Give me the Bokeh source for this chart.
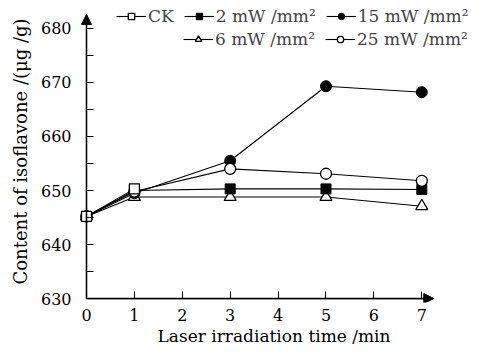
from bokeh.plotting import figure
from bokeh.models import Legend, LegendItem, Arrow, NormalHead, FixedTicker, Range1d, LinearAxis
from bokeh.embed import file_html
from bokeh.resources import INLINE

# ---- data ----
time = [0, 1, 3, 5, 7]
ck_time = [0, 1]
ck = [645.2, 650.3]
mw2 = [645.2, 650.0, 650.3, 650.3, 650.2]
mw6 = [645.2, 648.8, 648.8, 648.8, 647.1]
mw15 = [645.2, 649.5, 655.5, 669.3, 668.2]
mw25 = [645.2, 649.8, 654.0, 653.1, 651.8]
x_ticks = [0, 1, 2, 3, 4, 5, 6, 7]
y_ticks = [630, 640, 650, 660, 670, 680]
y_minor = [635, 645, 655, 665, 675]

FONT = "DejaVu Serif"
X0, X_ARROW, X_END = -0.146, 7.25, 7.975
Y0, Y_ARROW, Y_END = 629.27, 682.6, 685.17

p = figure(width=468, height=348, output_backend="svg", toolbar_location=None,
           x_range=Range1d(X0, X_END), y_range=Range1d(Y0, Y_END),
           min_border_left=79, min_border_right=0, min_border_top=0, min_border_bottom=40)
p.outline_line_color = None
p.grid.visible = False
p.background_fill_color = "white"

# label-only axes at the frame edges
for ax in (p.xaxis, p.yaxis):
    ax.axis_line_color = None
    ax.major_tick_line_color = None
    ax.minor_tick_line_color = None
    ax.major_label_text_font = FONT
    ax.major_label_text_font_size = "16px"
    ax.major_label_text_color = "black"
    ax.axis_label_text_font = FONT
    ax.axis_label_text_font_style = "normal"
    ax.axis_label_text_color = "black"

p.xaxis.ticker = FixedTicker(ticks=x_ticks)
p.yaxis.ticker = FixedTicker(ticks=y_ticks)
p.xaxis.major_label_standoff = 0
p.yaxis.major_label_standoff = 2
p.xaxis.axis_label = "Laser irradiation time /min"
p.yaxis.axis_label = "Content of isoflavone /(μg /g)"
p.xaxis.axis_label_text_font_size = "17px"
p.yaxis.axis_label_text_font_size = "18px"
p.xaxis.axis_label_standoff = 2
p.yaxis.axis_label_standoff = 7

# line + tick axes through the data origin
def line_axis(loc, ticker, bounds):
    a = LinearAxis(fixed_location=loc, ticker=ticker, bounds=bounds,
                   axis_line_color="black", axis_line_width=1.3,
                   major_tick_in=7, major_tick_out=0, minor_tick_in=7, minor_tick_out=0,
                   major_tick_line_width=1.1, minor_tick_line_width=1.1,
                   major_label_text_alpha=0, major_label_text_font_size="1px",
                   major_label_standoff=0)
    return a

p.add_layout(line_axis(630, FixedTicker(ticks=x_ticks), (0, X_ARROW)), "below")
p.add_layout(line_axis(0, FixedTicker(ticks=y_ticks, minor_ticks=y_minor), (630, Y_ARROW)), "left")

# axis arrows
p.add_layout(Arrow(end=NormalHead(size=10, fill_color="black", line_color="black"),
                   x_start=0, y_start=630, x_end=0, y_end=Y_ARROW, line_width=1.3))
p.add_layout(Arrow(end=NormalHead(size=10, fill_color="black", line_color="black"),
                   x_start=0, y_start=630, x_end=X_ARROW, y_end=630, line_width=1.3))

ms = 10
lw = 1.1
l6 = p.line(time, mw6, line_color="black", line_width=lw)
s6 = p.scatter(time, mw6, marker="triangle", size=ms + 2, fill_color="white", line_color="black", line_width=1.3)
l2 = p.line(time, mw2, line_color="black", line_width=lw)
s2 = p.scatter(time, mw2, marker="square", size=ms, fill_color="black", line_color="black")
l15 = p.line(time, mw15, line_color="black", line_width=lw)
s15 = p.scatter(time, mw15, marker="circle", size=ms + 1, fill_color="black", line_color="black")
l25 = p.line(time, mw25, line_color="black", line_width=lw)
s25 = p.scatter(time, mw25, marker="circle", size=ms + 1, fill_color="white", line_color="black", line_width=1.3)
lck = p.line(ck_time, ck, line_color="black", line_width=lw)
sck = p.scatter(ck_time, ck, marker="square", size=ms, fill_color="white", line_color="black", line_width=1.3)

def make_legend(items, loc):
    lg = Legend(items=items, orientation="horizontal", location=loc,
                border_line_color=None, background_fill_alpha=0,
                label_text_font=FONT, label_text_font_size="17px",
                glyph_width=30, glyph_height=16, label_standoff=2,
                spacing=10, padding=0, margin=0, label_height=16)
    p.add_layout(lg, "center")
    return lg

make_legend([LegendItem(label="CK", renderers=[lck, sck]),
             LegendItem(label="2 mW /mm²", renderers=[l2, s2]),
             LegendItem(label="15 mW /mm²", renderers=[l15, s15])], (37, 276))
make_legend([LegendItem(label="6 mW /mm²", renderers=[l6, s6]),
             LegendItem(label="25 mW /mm²", renderers=[l25, s25])], (104, 253))

open("out.html", "w").write(file_html(p, INLINE))
